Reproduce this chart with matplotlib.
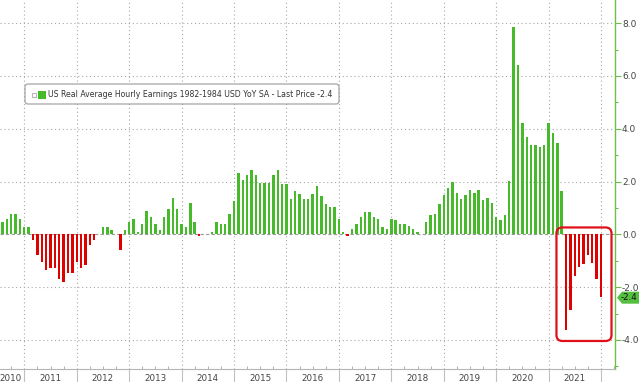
import numpy as np
import matplotlib
matplotlib.use('Agg')
import matplotlib.pyplot as plt
from matplotlib.patches import FancyBboxPatch, Polygon, Rectangle
from matplotlib.transforms import IdentityTransform, blended_transform_factory

plt.rcParams['font.family'] = 'DejaVu Sans'
plt.rcParams['axes.unicode_minus'] = False

# US real average hourly earnings, YoY % (monthly, Jul 2010 - Dec 2021)
y2010 = [0.47, 0.57, 0.77, 0.77, 0.57, 0.28]
y2011 = [0.28, -0.20, -0.78, -1.06, -1.36, -1.26, -1.26, -1.71, -1.81, -1.46, -1.46, -1.06]
y2012 = [-1.26, -1.17, -0.39, -0.20, 0.03, 0.28, 0.28, 0.18, 0.03, -0.58, 0.18, 0.47]
y2013 = [0.57, 0.09, 0.38, 0.87, 0.67, 0.38, 0.18, 0.67, 0.97, 1.36, 0.96, 0.38]
y2014 = [0.28, 1.17, 0.47, -0.08, 0.03, 0.03, 0.09, 0.47, 0.38, 0.38, 0.77, 1.27]
y2015 = [2.34, 2.04, 2.24, 2.43, 2.24, 1.95, 1.95, 1.95, 2.24, 2.43, 1.92, 1.92]
y2016 = [1.34, 1.63, 1.53, 1.34, 1.34, 1.53, 1.82, 1.44, 1.15, 1.05, 1.05, 0.57]
y2017 = [0.09, -0.06, 0.19, 0.38, 0.67, 0.86, 0.86, 0.67, 0.57, 0.29, 0.19, 0.57]
y2018 = [0.55, 0.39, 0.38, 0.32, 0.20, 0.10, 0.03, 0.45, 0.75, 0.76, 1.13, 1.48]
y2019 = [1.77, 1.97, 1.58, 1.32, 1.48, 1.67, 1.58, 1.67, 1.29, 1.38, 1.19, 0.66]
y2020 = [0.56, 0.72, 2.03, 7.85, 6.43, 4.22, 3.68, 3.39, 3.39, 3.29, 3.39, 4.22]
y2021 = [3.85, 3.46, 1.63, -3.63, -2.85, -1.56, -1.23, -1.11, -0.78, -1.08, -1.68, -2.39]

years = list(range(2010, 2022))
last_price = -2.4
titulo = 'US Real Average Hourly Earnings 1982-1984 USD YoY SA - Last Price -2.4'

valores = np.array(y2010 + y2011 + y2012 + y2013 + y2014 + y2015 + y2016 +
                   y2017 + y2018 + y2019 + y2020 + y2021)
meses = np.arange(len(valores))          # 0 = Jul 2010
inicio = 6                               # first month shown is July
sep = [11 - inicio + 12 * k for k in range(len(years))]   # december bars = year boundaries

verde = '#47ba2c'
vermelho = '#df0000'
cinza = '#a8a8a8'

fig = plt.figure(figsize=(6.39, 3.82), dpi=100)
ax = fig.add_axes([0, 13.3 / 382, 615 / 639, 368.7 / 382])

cores = [verde if v >= 0 else vermelho for v in valores]
ax.bar(meses, valores, width=0.55, color=cores, zorder=3)

# grid
for s in sep:
    ax.axvline(s, color=cinza, lw=0.8, ls=(0, (1, 2.5)), zorder=1)
for yv in [-4, -2, 2, 4, 6, 8]:
    ax.axhline(yv, color=cinza, lw=0.8, ls=(0, (1, 2.5)), zorder=1)
ax.axhline(0, color='#9a9a9a', lw=0.8, ls=(0, (3, 2)), zorder=2)

# spines
ax.spines['top'].set_visible(False)
ax.spines['left'].set_visible(False)
ax.spines['right'].set_color('#6cc04a')
ax.spines['right'].set_linewidth(1.0)
ax.spines['bottom'].set_color('#b5b5b5')
ax.spines['bottom'].set_linewidth(0.8)

# y axis on right
ax.yaxis.tick_right()
ax.set_yticks([-4, -2, 0, 2, 4, 6, 8])
ax.set_yticks([-5, -3, -1, 1, 3, 5, 7], minor=True)
ax.set_yticklabels(['%.1f' % t for t in [-4, -2, 0, 2, 4, 6, 8]])
ax.tick_params(axis='y', which='major', direction='out', length=4, width=0.8,
               color='#6cc04a', labelsize=6.5, labelcolor='#444444', pad=1)
ax.tick_params(axis='y', which='minor', direction='out', length=2.5, width=0.8,
               color='#6cc04a')

# x axis: year separators and quarter ticks
ax.set_xticks(sep)
ax.set_xticklabels([])
trimestres = [s + 3 * q for s in [sep[0] - 12] + sep for q in (1, 2, 3)]
ax.set_xticks([t for t in trimestres if 0 <= t <= 140], minor=True)
ax.tick_params(axis='x', which='major', direction='out', length=10, width=0.8,
               color='#c0c0c0')
ax.tick_params(axis='x', which='minor', direction='in', length=2, width=0.7,
               color='#b0b0b0')

ax.set_xlim(-0.56, 140.2)
ax.set_ylim(-5.09, 8.875)

trans = blended_transform_factory(ax.transData, ax.transAxes)
for k, ano in enumerate(years):
    xc = sep[k] - 6 if k > 0 else (ax.get_xlim()[0] + sep[0]) / 2 - 0.4
    ax.text(xc, -0.027, str(ano), transform=trans, ha='center', va='center',
            fontsize=6.3, color='#444444')

fig.canvas.draw()
H = fig.bbox.height

# legend box
leg = FancyBboxPatch((25, H - 104), 314, 20, boxstyle='round,pad=0,rounding_size=3',
                     transform=IdentityTransform(), fc='white', ec='#9a9a9a', lw=0.8,
                     zorder=5)
fig.patches.append(leg)
fig.patches.append(Rectangle((32, H - 96.5), 4, 4, transform=IdentityTransform(),
                             fc='white', ec='#999999', lw=0.5, zorder=6))
fig.patches.append(Rectangle((38, H - 98.5), 8, 8, transform=IdentityTransform(),
                             fc=verde, ec='none', zorder=6))
fig.text(48 / 639, 1 - 94.5 / 382, titulo, fontsize=5.6, color='#333333',
         ha='left', va='center', zorder=7)

# red box around the 2021 negative bars
p1 = ax.transData.transform((126.8, 0.26))
p2 = ax.transData.transform((139.4, -4.04))
caixa = FancyBboxPatch((p1[0], p2[1]), p2[0] - p1[0], p1[1] - p2[1],
                       boxstyle='round,pad=0,rounding_size=6',
                       transform=IdentityTransform(), fc='none', ec='#e0101a', lw=1.6,
                       zorder=6)
fig.patches.append(caixa)

# last price tag
py = ax.transData.transform((0, last_price))[1]
xr = ax.transData.transform((ax.get_xlim()[1], 0))[0]
tag = Polygon([(xr + 2, py), (xr + 7, py + 6), (639, py + 6), (639, py - 6), (xr + 7, py - 6)],
              closed=True, transform=IdentityTransform(), fc='#55c040', ec='none', zorder=6)
fig.patches.append(tag)
fig.text((xr + 6) / 639, py / H, '%.1f' % last_price, fontsize=6.3, color='#111111',
         ha='left', va='center', zorder=7)

fig.savefig('out.png', dpi=100)
